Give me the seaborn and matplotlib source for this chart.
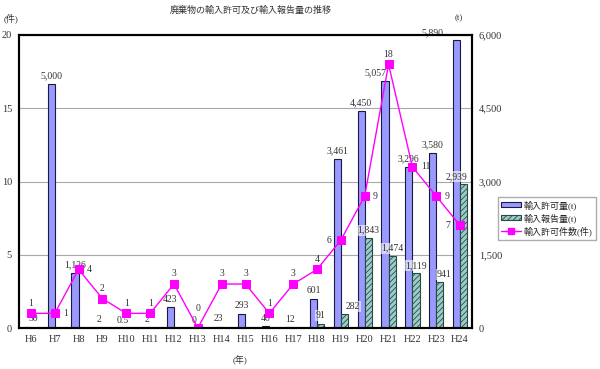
import numpy as np
import pandas as pd
import seaborn as sns
import matplotlib.pyplot as plt
from matplotlib.patches import Patch
from matplotlib.lines import Line2D
from matplotlib.ticker import FuncFormatter

# data
years = ['H6', 'H7', 'H8', 'H9', 'H10', 'H11', 'H12', 'H13', 'H14', 'H15',
         'H16', 'H17', 'H18', 'H19', 'H20', 'H21', 'H22', 'H23', 'H24']
permit_t = [30, 5000, 1126, 2, 0.5, 2, 423, 0, 23, 293,
            40, 12, 601, 3461, 4450, 5057, 3296, 3580, 5890]
report_t = [np.nan] * 12 + [91, 282, 1843, 1474, 1119, 941, 2939]
permit_count = [1, 1, 4, 2, 1, 1, 3, 0, 3, 3, 1, 3, 4, 6, 9, 18, 11, 9, 7]

series_names = ['輸入許可量(t)', '輸入報告量(t)', '輸入許可件数(件)']

# where each count label sits relative to its marker
count_label_pos = ['above', 'right', 'right', 'above', 'above', 'above', 'above',
                   'high', 'above', 'above', 'above', 'above', 'above',
                   'left', 'right', 'above', 'right', 'right', 'left']

c_permit = '#9999FF'
c_report = '#99CCCC'
c_line = '#FF00FF'

sns.set_theme(style='white')
plt.rcParams['font.family'] = ['Liberation Serif', 'Noto Sans CJK JP']
plt.rcParams['hatch.linewidth'] = 0.6

fig = plt.figure(figsize=(6, 3.69), dpi=100)
ax = fig.add_axes([19 / 600, 1 - 328 / 369, (472 - 19) / 600, (328 - 35) / 369])

df = pd.DataFrame({
    'year': years * 2,
    'series': [series_names[0]] * len(years) + [series_names[1]] * len(years),
    'value': permit_t + report_t,
})

sns.barplot(data=df, x='year', y='value', hue='series', order=years,
            hue_order=series_names[:2], palette=[c_permit, c_report],
            width=0.6, gap=0, errorbar=None, edgecolor='#1a1a40', linewidth=0.8,
            saturation=1, legend=False, ax=ax)
for bar in ax.containers[1]:
    bar.set_hatch('//////')
    bar.set_edgecolor('#2a4a40')

ax.set_ylim(0, 6000)
ax.set_xlim(-0.5, len(years) - 0.5)
ax.set_xlabel('')
ax.set_ylabel('')
ax.grid(axis='y', color='#a8a8a8', lw=0.8)
ax.set_axisbelow(True)

ax2 = ax.twinx()
sns.pointplot(x=years, y=permit_count, ax=ax2, color=c_line, markers='s',
              markersize=5.5, linewidth=1, errorbar=None)
ax2.set_ylim(0, 20)
ax2.set_xlim(-0.5, len(years) - 0.5)
ax2.set_yticks([0, 5, 10, 15, 20])
ax2.set_ylabel('')

# swap sides: tonnes on the right, counts on the left
ax.yaxis.tick_right()
ax2.yaxis.tick_left()
ax.set_yticks([0, 1500, 3000, 4500, 6000])
ax.yaxis.set_major_formatter(FuncFormatter(lambda v, p: f'{int(v):,}'))

ax.tick_params(axis='y', length=0, labelsize=7.5, pad=5, labelcolor='#333333')
ax.tick_params(axis='x', length=0, labelsize=7.5, pad=5, labelcolor='#333333')
ax2.tick_params(axis='y', length=0, labelsize=7.5, pad=5, labelcolor='#333333')
for a in (ax, ax2):
    for s in a.spines.values():
        s.set_color('black')
        s.set_linewidth(1.5)


def fmt(v):
    return f'{int(v):,}' if float(v).is_integer() else str(v)


permit_dx = {'H6': 4, 'H21': -7, 'H24': -17}
for i, v in enumerate(permit_t):
    ax.annotate(fmt(v), (i - 0.15, v), xytext=(permit_dx.get(years[i], 0), 2.5),
                textcoords='offset points', ha='center', va='bottom',
                fontsize=7, color='#333333')

report_dx = {'H19': 6, 'H23': 3, 'H24': -5}
for i, v in enumerate(report_t):
    if np.isnan(v):
        continue
    ax.annotate(fmt(v), (i + 0.15, v), xytext=(report_dx.get(years[i], 0), 2.5),
                textcoords='offset points', ha='center', va='bottom',
                fontsize=7, color='#333333',
                bbox=dict(boxstyle='square,pad=0.1', fc='white', ec='none', alpha=0.6))

offsets = {'above': ((0, 4), 'center', 'bottom'),
           'high': ((0, 11), 'center', 'bottom'),
           'right': ((6, 0), 'left', 'center'),
           'left': ((-7, 0), 'right', 'center')}
for i, v in enumerate(permit_count):
    off, ha, va = offsets[count_label_pos[i]]
    ax2.annotate(str(v), (i, v), xytext=off, textcoords='offset points',
                 ha=ha, va=va, fontsize=7, color='#333333')

handles = [
    Patch(facecolor=c_permit, edgecolor='#1a1a40', lw=0.8),
    Patch(facecolor=c_report, edgecolor='#2a4a40', lw=0.8, hatch='//////'),
    Line2D([], [], color=c_line, marker='s', markersize=5, lw=1),
]
fig.legend(handles, series_names, loc='upper left',
           bbox_to_anchor=(493 / 600, 1 - 192 / 369), fontsize=6.5,
           frameon=True, fancybox=False, edgecolor='#999999',
           handlelength=2.2, handleheight=0.5, borderpad=0.4,
           labelspacing=0.35, handletextpad=0.3)

fig.text(251 / 600, 1 - 10 / 369, '廃棄物の輸入許可及び輸入報告量の推移',
         ha='center', va='center', fontsize=6.5, color='#333333')
fig.text(11 / 600, 1 - 18 / 369, '(件)', ha='center', va='center',
         fontsize=6.5, color='#333333')
fig.text(459 / 600, 1 - 18 / 369, '(t)', ha='center', va='center',
         fontsize=6.5, color='#333333')
fig.text(240 / 600, 1 - 360 / 369, '(年)', ha='center', va='center',
         fontsize=6.5, color='#333333')

fig.savefig('out.png', dpi=100)
